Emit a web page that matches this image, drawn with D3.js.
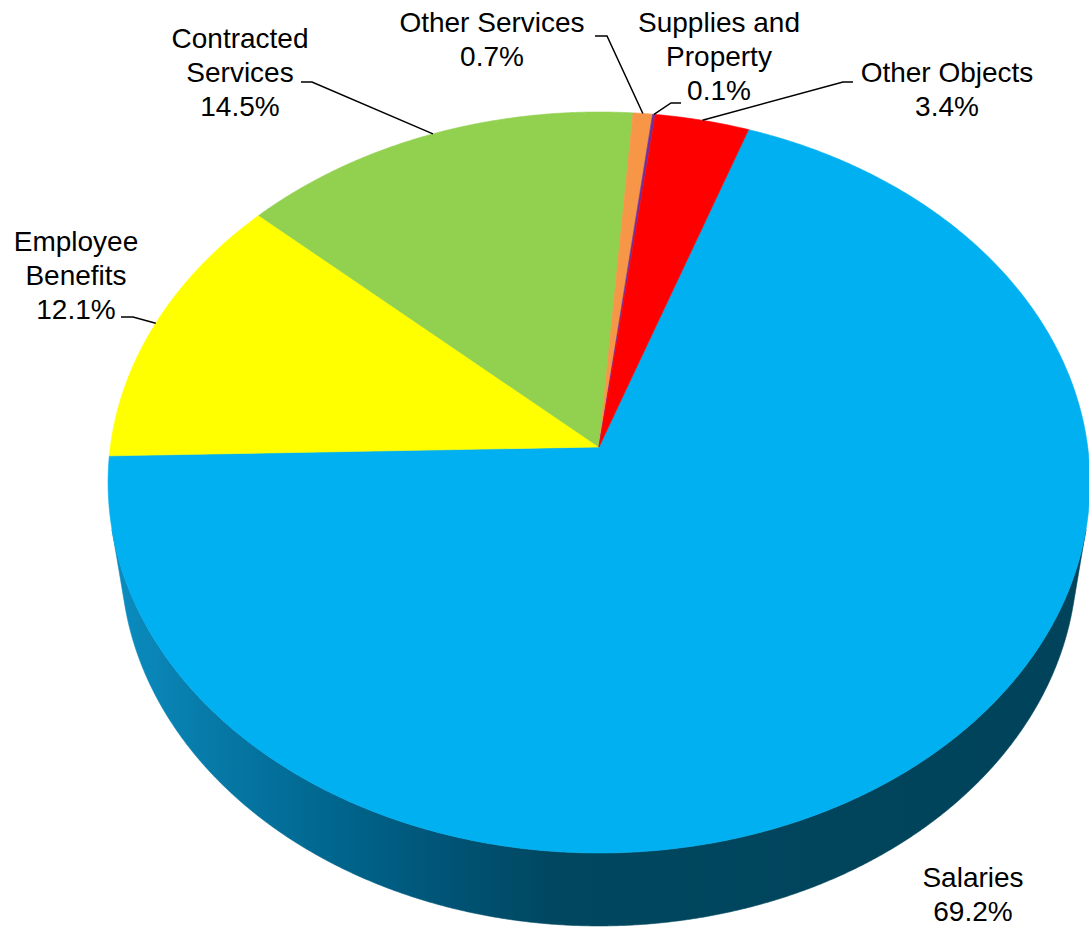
<!DOCTYPE html>
<html>
<head>
<meta charset="utf-8">
<script src="https://cdn.jsdelivr.net/npm/d3@7"></script>
<style>
  html, body { margin: 0; padding: 0; background: #ffffff; }
  svg { display: block; }
  text { font-family: "Liberation Sans", Arial, sans-serif; fill: #000; }
</style>
</head>
<body>
<svg id="chart" width="1089" height="927"></svg>
<script>
// Spending by object, share of total (%)
const categories = ["Salaries", "Employee Benefits", "Contracted Services", "Other Services", "Supplies and Property", "Other Objects"];
const shares = [69.2, 12.1, 14.5, 0.7, 0.1, 3.4];
const labelNames = [["Salaries"], ["Employee", "Benefits"], ["Contracted", "Services"], ["Other Services"], ["Supplies and", "Property"], ["Other Objects"]];
const topColors = ["#00B0F0", "#FFFF00", "#92D050", "#F79646", "#7030A0", "#FF0000"];

// Label placement: anchor (centre x, first baseline) and optional leader elbow
const labelLayout = [
  { x: 973, y: 887, elbow: null },
  { x: 76,  y: 251, elbow: [[121, 317], [133, 317]] },
  { x: 240, y: 48,  elbow: [[301, 82], [312, 82]] },
  { x: 492, y: 32,  elbow: [[595, 36], [607, 36]] },
  { x: 719, y: 32,  elbow: [[681, 103], [671, 103]] },
  { x: 947, y: 82,  elbow: [[853, 82], [843, 82]] }
];

// Perspective camera for the tilted disc
const cam = { cx: 599, cy: 447, F: 3367, L: 6.89, sinE: 0.7512, thick: 0.244 };
cam.cosE = Math.sqrt(1 - cam.sinE * cam.sinE);
const startDeg = 19.5;
const lineGap = 34;

const svg = d3.select("#chart");

// phi: clockwise from the far edge (radians); yw: 0 on top face, -thick at bottom
function project(phi, yw) {
  const X = Math.sin(phi), Z = -Math.cos(phi), Y = yw;
  const ycam = Y * cam.cosE - Z * cam.sinE;
  const depth = cam.L - (Y * cam.sinE + Z * cam.cosE);
  return [cam.cx + cam.F * X / depth, cam.cy - cam.F * ycam / depth];
}

function sampleArc(a0, a1, yw) {
  const n = Math.max(2, Math.ceil(Math.abs(a1 - a0) / 0.005));
  return d3.range(n + 1).map(i => project(a0 + (a1 - a0) * i / n, yw));
}

const pie = d3.pie().sort(null).value(d => d)
  .startAngle(startDeg * Math.PI / 180)
  .endAngle(startDeg * Math.PI / 180 + 2 * Math.PI);
const arcs = pie(shares);

const line = d3.line();

// Side-wall shading, lighter on the left and darkening towards the right
const defs = svg.append("defs");
const grad = defs.append("linearGradient")
  .attr("id", "sideShade")
  .attr("gradientUnits", "userSpaceOnUse")
  .attr("x1", 107).attr("y1", 0).attr("x2", 1089).attr("y2", 0);
[[0, "#0b8ec2"], [0.10, "#077ba9"], [0.23, "#00668e"], [0.35, "#005375"], [0.46, "#00475f"], [1, "#00435a"]]
  .forEach(([o, c]) => grad.append("stop").attr("offset", o).attr("stop-color", c));

// Visible front wall lies between the two silhouette generators
const silh = Math.acos(-1 / (cam.L * cam.cosE));
const visA = silh, visB = 2 * Math.PI - silh;

const sideG = svg.append("g");
arcs.forEach((a, i) => {
  // test the slice range against the visible band (also one turn later)
  [0, 2 * Math.PI, -2 * Math.PI].forEach(shift => {
    const lo = Math.max(a.startAngle + shift, visA);
    const hi = Math.min(a.endAngle + shift, visB);
    if (hi > lo) {
      const pts = sampleArc(lo, hi, 0).concat(sampleArc(hi, lo, -cam.thick));
      sideG.append("path")
        .attr("d", line(pts) + "Z")
        .attr("fill", i === 0 ? "url(#sideShade)" : d3.color(topColors[i]).darker(1.2))
        .attr("stroke", i === 0 ? "url(#sideShade)" : "none")
        .attr("stroke-width", 0.6);
    }
  });
});

// Top face slices
const topG = svg.append("g");
arcs.forEach((a, i) => {
  const pts = [[cam.cx, cam.cy]].concat(sampleArc(a.startAngle, a.endAngle, 0));
  topG.append("path")
    .attr("d", line(pts) + "Z")
    .attr("fill", topColors[i])
    .attr("stroke", topColors[i])
    .attr("stroke-width", 0.6)
    .attr("stroke-linejoin", "round");
});

// Leader lines from label elbow to the slice's mid edge
const fmt = d3.format(".1f");
const leadG = svg.append("g");
arcs.forEach((a, i) => {
  const lay = labelLayout[i];
  if (!lay.elbow) return;
  const mid = (a.startAngle + a.endAngle) / 2;
  const pts = lay.elbow.concat([project(mid, 0)]);
  leadG.append("path")
    .attr("d", line(pts))
    .attr("fill", "none")
    .attr("stroke", "#000")
    .attr("stroke-width", 1.5);
});

// Category labels with percentages
const labG = svg.append("g");
arcs.forEach((a, i) => {
  const lay = labelLayout[i];
  const lines = labelNames[i].concat([fmt(shares[i]) + "%"]);
  const t = labG.append("text")
    .attr("text-anchor", "middle")
    .attr("font-size", 28);
  lines.forEach((s, k) => {
    t.append("tspan").attr("x", lay.x).attr("y", lay.y + k * lineGap).text(s);
  });
});
</script>
</body>
</html>
